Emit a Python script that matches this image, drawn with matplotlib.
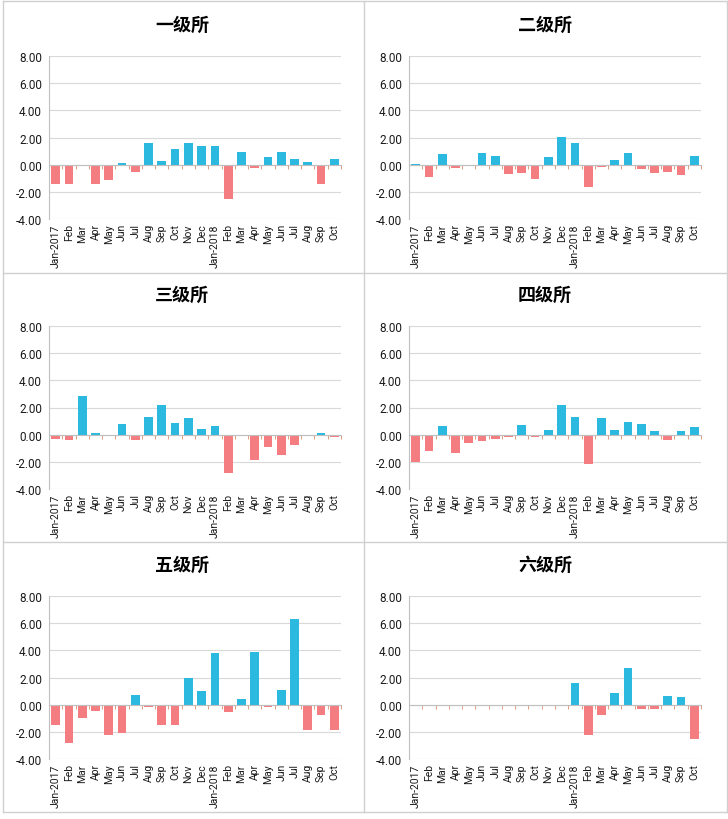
import matplotlib
matplotlib.use("Agg")
import matplotlib.pyplot as plt
from matplotlib.lines import Line2D

plt.rcParams['font.family'] = ['Roboto', 'DejaVu Sans', 'Noto Sans CJK SC']

months = ['Jan-2017', 'Feb', 'Mar', 'Apr', 'May', 'Jun', 'Jul', 'Aug', 'Sep', 'Oct', 'Nov', 'Dec',
          'Jan-2018', 'Feb', 'Mar', 'Apr', 'May', 'Jun', 'Jul', 'Aug', 'Sep', 'Oct']

titles = ['一级所', '二级所', '三级所', '四级所', '五级所', '六级所']

lvl1 = [-1.41, -1.41, 0.0, -1.41, -1.12, 0.10, -0.54, 1.63, 0.24, 1.12, 1.56, 1.41,
        1.34, -2.51, 0.90, -0.24, 0.54, 0.90, 0.39, 0.17, -1.41, 0.39]
lvl2 = [0.07, -0.90, 0.76, -0.24, 0.0, 0.83, 0.61, -0.68, -0.61, -1.05, 0.54, 2.07,
        1.56, -1.63, -0.17, 0.32, 0.83, -0.32, -0.61, -0.54, -0.76, 0.61]
lvl3 = [-0.32, -0.39, 2.88, 0.10, -0.10, 0.76, -0.39, 1.27, 2.15, 0.83, 1.20, 0.39,
        0.61, -2.80, -0.10, -1.85, -0.90, -1.49, -0.76, -0.10, 0.10, -0.17]
lvl4 = [-1.98, -1.20, 0.61, -1.34, -0.61, -0.46, -0.32, -0.17, 0.68, -0.17, 0.32, 2.22,
        1.27, -2.15, 1.20, 0.32, 0.90, 0.76, 0.24, -0.39, 0.24, 0.54]
lvl5 = [-1.49, -2.80, -0.98, -0.46, -2.22, -2.07, 0.68, -0.17, -1.49, -1.49, 2.00, 0.98,
        3.83, -0.54, 0.39, 3.90, -0.17, 1.05, 6.32, -1.85, -0.76, -1.85]
lvl6 = [0.0, 0.0, 0.0, 0.0, 0.0, 0.0, 0.0, 0.0, 0.0, 0.0, 0.0, 0.0,
        1.63, -2.22, -0.76, 0.83, 2.73, -0.32, -0.32, 0.61, 0.54, -2.51]

series = [lvl1, lvl2, lvl3, lvl4, lvl5, lvl6]

BLUE = '#2cb9e0'
RED = '#f47d82'
W, H = 728, 820

fig = plt.figure(figsize=(W / 100, H / 100), dpi=100)

# panel frame lines (pixels)
def line_px(x0, y0, x1, y1):
    fig.add_artist(Line2D([x0 / W, x1 / W], [1 - y0 / H, 1 - y1 / H],
                          color='#d0d0d0', lw=1.0))

line_px(3, 2, 727, 2)
line_px(3, 274, 727, 274)
line_px(3, 543, 727, 543)
line_px(3, 813, 727, 813)
line_px(3, 2, 3, 813)
line_px(364, 2, 364, 813)
line_px(727, 2, 727, 813)

x = list(range(len(months)))

for i, (vals, title) in enumerate(zip(series, titles)):
    row, col = divmod(i, 2)
    left = 49 + col * 360
    top = 57 + row * 270
    ax = fig.add_axes([left / W, 1 - (top + 163) / H, 292 / W, 163 / H])
    colors = [BLUE if v >= 0 else RED for v in vals]
    ax.bar(x, vals, width=0.66, color=colors, zorder=3)
    ax.set_xlim(-0.5, len(months) - 0.5)
    ax.set_ylim(-4, 8)
    ax.set_yticks([-4, -2, 0, 2, 4, 6, 8])
    ax.set_yticklabels(['%.2f' % t for t in [-4, -2, 0, 2, 4, 6, 8]])
    ax.grid(axis='y', color='#d9d9d9', lw=0.8, zorder=0)
    for s in ['top', 'right']:
        ax.spines[s].set_visible(False)
    ax.spines['left'].set_color('#bfbfbf')
    ax.spines['bottom'].set_position(('data', 0))
    ax.spines['bottom'].set_color('#bfbfbf')
    ax.spines['bottom'].set_zorder(4)
    ax.set_xticks(x)
    ax.set_xticklabels([])
    ax.tick_params(axis='x', which='major', length=0)
    ax.set_xticks([k + 0.5 for k in x], minor=True)
    ax.tick_params(axis='x', which='minor', length=3, color='#d98c6a', direction='out')
    ax.tick_params(axis='y', length=0, labelsize=8.5, colors='#1a1a1a', pad=5)
    sec = ax.secondary_xaxis(0)
    sec.set_xticks(x)
    sec.set_xticklabels(months, rotation=90, fontsize=7.5, color='#1a1a1a')
    sec.tick_params(length=0, pad=3)
    sec.spines['bottom'].set_visible(False)
    fig.text((182 + col * 363) / W, 1 - (25 + row * 270) / H, title,
             ha='center', va='center', fontsize=13, fontweight='bold',
             family=['Noto Sans CJK SC', 'DejaVu Sans'])

fig.savefig('out.png', dpi=100)
